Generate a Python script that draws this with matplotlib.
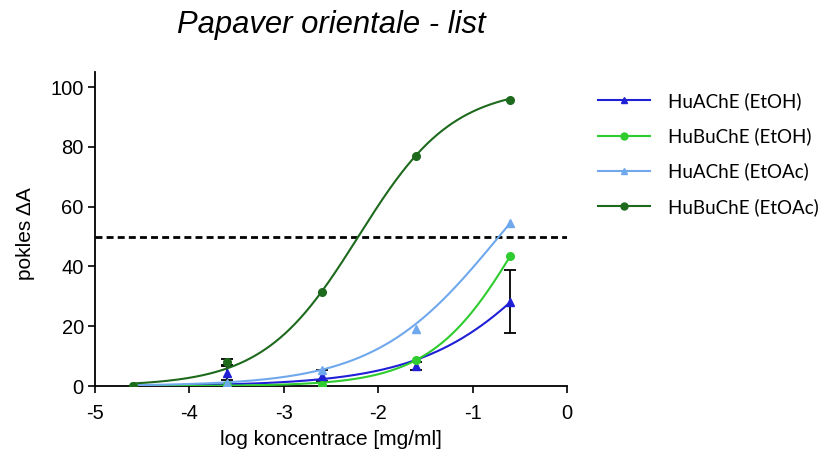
import numpy as np
import matplotlib
matplotlib.use("Agg")
import matplotlib.pyplot as plt

plt.rcParams['font.family'] = ['Liberation Sans', 'DejaVu Sans']

log_conc = [-4.6, -3.6, -2.6, -1.6, -0.6]

labels = ["HuAChE (EtOH)", "HuBuChE (EtOH)", "HuAChE (EtOAc)", "HuBuChE (EtOAc)"]
ache_etoh = [0.0, 4.4, 3.4, 6.7, 28.2]
ache_etoh_err = [0.0, 2.5, 1.8, 1.5, 10.5]
buche_etoh = [0.0, 0.3, 0.5, 8.7, 43.5]
buche_etoh_err = [0.0, 0.0, 0.0, 0.0, 0.0]
ache_etoac = [0.0, 1.0, 5.3, 19.0, 54.5]
ache_etoac_err = [0.0, 0.0, 0.0, 0.0, 0.0]
buche_etoac = [0.0, 8.0, 31.4, 77.0, 95.8]
buche_etoac_err = [0.0, 1.2, 0.0, 0.0, 0.0]

# fitted sigmoid parameters (log EC50, Hill slope), bottom 0 / top 100
log_ec50 = [0.07, -0.475, -0.72, -2.21]
hill = [0.61, 0.91, 0.66, 0.865]

colors = ["#1f1fd6", "#2ecc2e", "#6fa8ec", "#1d6a1d"]
markers = ["^", "o", "^", "o"]
series = [ache_etoh, buche_etoh, ache_etoac, buche_etoac]
errs = [ache_etoh_err, buche_etoh_err, ache_etoac_err, buche_etoac_err]

fig = plt.figure(figsize=(8.23, 4.55), dpi=100)
ax = fig.add_axes([0.1154, 0.1516, 0.5735, 0.690])

xs = np.linspace(log_conc[0], log_conc[-1], 300)
handles = []
for i in range(4):
    yfit = 100.0 / (1.0 + 10 ** ((log_ec50[i] - xs) * hill[i]))
    ax.plot(xs, yfit, color=colors[i], lw=1.5, zorder=3)
    err = np.array(errs[i])
    mask = err > 0
    if mask.any():
        ax.errorbar(np.array(log_conc)[mask], np.array(series[i])[mask],
                    yerr=err[mask], fmt='none', ecolor='black',
                    elinewidth=1.3, capsize=4, capthick=1.3, zorder=2)
    ax.plot(log_conc, series[i], linestyle='none', marker=markers[i],
            color=colors[i], ms=5.5, zorder=4)
    h, = ax.plot([], [], color=colors[i], lw=1.5, marker=markers[i], ms=5)
    handles.append(h)

ax.axhline(50, color='black', lw=2, linestyle=(0, (2.5, 1.5)), zorder=1)

ax.set_xlim(-5, 0)
ax.set_ylim(0, 105)
ax.set_xticks([-5, -4, -3, -2, -1, 0])
ax.set_yticks([0, 20, 40, 60, 80, 100])
ax.set_xticklabels(["-5", "-4", "-3", "-2", "-1", "0"])
ax.spines['top'].set_visible(False)
ax.spines['right'].set_visible(False)
ax.spines['left'].set_linewidth(1.3)
ax.spines['bottom'].set_linewidth(1.3)
ax.tick_params(axis='both', direction='out', length=5, width=1.2, labelsize=14.5)
ax.tick_params(axis='x', pad=8)
ax.tick_params(axis='y', pad=3)

ax.set_xlabel("log koncentrace [mg/ml]", fontsize=15, labelpad=5)
ax.set_ylabel("pokles ΔA", fontsize=15)
ax.yaxis.set_label_coords(-0.128, 0.484)
ax.set_title("Papaver orientale - list", fontsize=22.3, style='italic', pad=28, x=0.5)

leg = fig.legend(handles, labels, loc='upper left', bbox_to_anchor=(0.706, 0.835),
                 frameon=False, handlelength=2.8, handletextpad=0.95,
                 labelspacing=0.93, prop={'family': 'Lato', 'size': 13.5})

fig.savefig("out.png", dpi=100)
